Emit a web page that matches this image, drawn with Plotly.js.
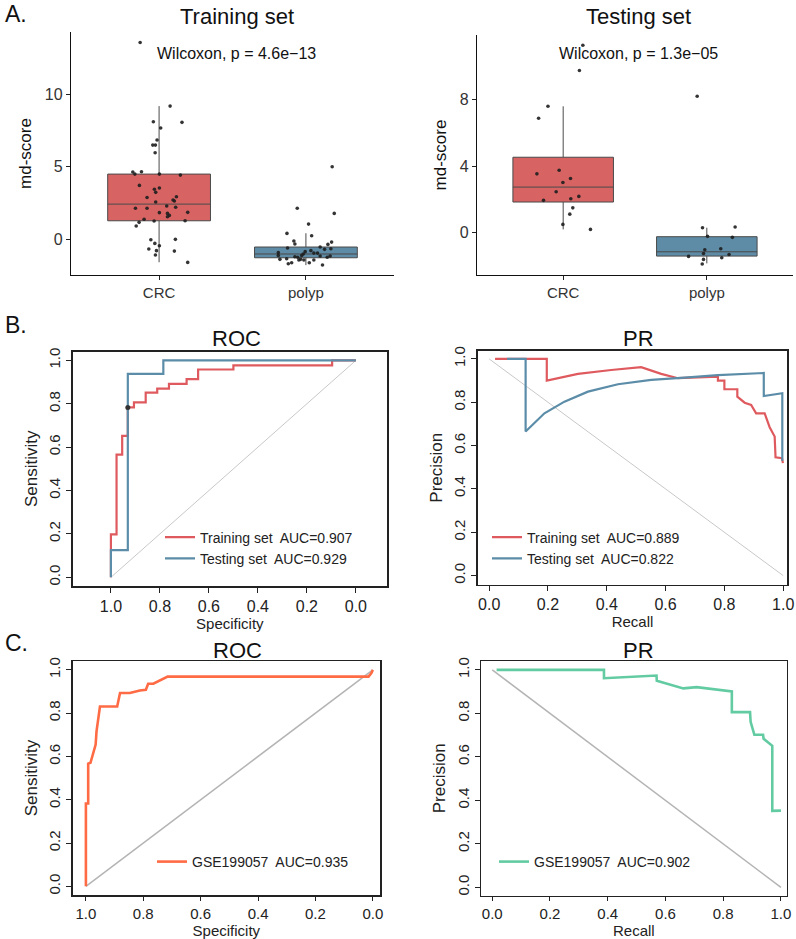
<!DOCTYPE html>
<html>
<head>
<meta charset="utf-8">
<script src="https://cdn.plot.ly/plotly-3.0.1.min.js"></script>
<style>html,body{margin:0;padding:0;background:#fff}#chart{width:796px;height:939px}</style>
</head>
<body>
<div id="chart"></div>
<script>
// ---------- Data ----------
const categories = ['CRC', 'polyp'];

// Panel A, training set: jittered points (value, horizontal jitter in category units)
const trainCRC_y = [13.56, 9.17, 8.09, 8.05, 7.66, 6.83, 6.48, 6.48, 5.95, 4.62, 4.48, 4.64, 4.48, 4.41, 3.70, 3.43, 3.52, 3.22, 2.87, 2.92, 2.69, 2.62, 2.55, 2.28, 2.12, 2.12, 2.19, 1.82, 1.77, 1.63, 1.54, 1.84, 1.36, 1.24, 1.26, 1.15, 0.90, -0.05, -0.02, -0.30, -0.69, -0.80, -0.46, -0.83, -1.10, -1.61];
const trainCRC_jit = [-0.129, 0.075, -0.039, 0.156, 0.011, -0.014, -0.043, -0.025, -0.027, -0.179, -0.165, -0.12, 0.002, 0.145, -0.134, -0.032, 0.002, -0.023, -0.082, 0.118, 0.095, 0.104, -0.023, 0.052, -0.161, -0.082, 0.113, 0.002, 0.057, 0.07, 0.057, 0.195, -0.102, -0.034, 0.177, -0.136, -0.156, -0.056, 0.111, -0.029, -0.07, -0.018, 0.002, 0.104, -0.025, 0.195];
const trainPolyp_y = [4.99, 2.12, 1.77, 1.03, 0.39, 0.23, -0.14, -0.34, -0.21, -0.37, -0.62, -0.55, -0.71, -0.67, -0.80, -0.87, -0.94, -1.03, -0.97, -0.97, -1.13, -1.13, -1.22, -1.26, -1.17, -1.26, -1.36, -1.40, -1.45, -1.45, -1.45, -1.63, -1.63, -1.70, -1.79, -1.40, -1.17];
const trainPolyp_jit = [0.179, -0.059, 0.193, 0.018, -0.129, 0.039, -0.082, -0.075, 0.175, 0.150, -0.125, 0.097, 0.127, 0.170, 0.034, -0.005, -0.188, -0.018, 0.054, 0.079, -0.029, -0.188, -0.075, -0.056, 0.165, 0.145, -0.131, -0.177, -0.048, -0.014, 0.054, 0.023, -0.097, -0.120, 0.113, -0.036, 0.097];
// box statistics [CRC, polyp]
const trainQ1 = [1.26, -1.29], trainMed = [2.41, -1.03], trainQ3 = [4.48, -0.55], trainLo = [-1.60, -1.80], trainHi = [9.17, 0.40];

// Panel A, testing set
const testCRC_y = [11.28, 9.76, 7.6, 6.88, 3.53, 3.75, 3.25, 3.01, 2.45, 2.17, 1.93, 2.03, 1.48, 1.10, 0.48, 0.18];
const testCRC_jit = [0.137, 0.113, -0.106, -0.171, -0.183, -0.028, 0.051, -0.002, -0.049, 0.109, -0.137, 0.053, 0.067, 0.046, -0.002, 0.19];
const testPolyp_y = [8.21, 0.28, 0.32, -0.24, -0.30, -0.99, -1.05, -1.27, -1.45, -1.53, -1.33, -1.63, -1.91];
const testPolyp_jit = [-0.067, -0.030, 0.197, 0.005, 0.178, 0.097, -0.014, -0.023, -0.127, 0.104, 0.155, -0.023, -0.032];
const testQ1 = [1.83, -1.43], testMed = [2.73, -1.17], testQ3 = [4.53, -0.26], testLo = [0.18, -1.87], testHi = [7.6, 0.28];

const pTrain = 'Wilcoxon, p = 4.6e\u221213';
const pTest = 'Wilcoxon, p = 1.3e\u221205';

// Panel B, ROC
const rocTrainSpec = [1, 1, 0.977, 0.977, 0.954, 0.954, 0.931, 0.931, 0.906, 0.906, 0.858, 0.858, 0.811, 0.811, 0.763, 0.763, 0.691, 0.691, 0.644, 0.644, 0.50, 0.50, 0.097, 0.097, 0];
const rocTrainSens = [0, 0.198, 0.198, 0.566, 0.566, 0.652, 0.652, 0.783, 0.783, 0.806, 0.806, 0.851, 0.851, 0.870, 0.870, 0.892, 0.892, 0.914, 0.914, 0.958, 0.958, 0.977, 0.977, 1, 1];
const rocTestSpec = [1, 1, 0.931, 0.931, 0.786, 0.786, 0];
const rocTestSens = [0, 0.125, 0.125, 0.9375, 0.9375, 1, 1];
const rocCutSpec = [0.931], rocCutSens = [0.783];
const aucRocTrain = '0.907', aucRocTest = '0.929';

// Panel B, PR
const prTrainRec = [0.020, 0.196, 0.196, 0.245, 0.302, 0.415, 0.517, 0.585, 0.642, 0.778, 0.778, 0.80, 0.80, 0.844, 0.844, 0.869, 0.891, 0.908, 0.937, 0.954, 0.971, 0.974, 0.996, 0.999];
const prTrainPrec = [1.0, 1.0, 0.90, 0.915, 0.931, 0.949, 0.962, 0.931, 0.911, 0.918, 0.90, 0.90, 0.860, 0.860, 0.826, 0.798, 0.788, 0.749, 0.749, 0.685, 0.642, 0.546, 0.542, 0.519];
const prTestRec = [0.061, 0.124, 0.124, 0.188, 0.256, 0.336, 0.438, 0.551, 0.665, 0.778, 0.934, 0.934, 0.997, 0.997];
const prTestPrec = [1.0, 1.0, 0.665, 0.749, 0.803, 0.849, 0.883, 0.903, 0.914, 0.925, 0.935, 0.829, 0.842, 0.53];
const aucPrTrain = '0.889', aucPrTest = '0.822';

// Panel C, external set GSE199057
const rocExtSpec = [1.0, 1.0, 0.992, 0.992, 0.984, 0.966, 0.963, 0.951, 0.891, 0.881, 0.847, 0.812, 0.791, 0.783, 0.765, 0.715, 0.015, 0.005, 0];
const rocExtSens = [0, 0.383, 0.383, 0.567, 0.571, 0.655, 0.716, 0.831, 0.831, 0.893, 0.893, 0.905, 0.908, 0.936, 0.936, 0.969, 0.969, 0.985, 1.0];
const prExtRec = [0.015, 0.387, 0.387, 0.569, 0.570, 0.662, 0.708, 0.830, 0.830, 0.893, 0.895, 0.908, 0.938, 0.940, 0.970, 0.970, 1.0];
const prExtPrec = [1.0, 1.0, 0.962, 0.974, 0.950, 0.915, 0.921, 0.901, 0.806, 0.806, 0.761, 0.702, 0.702, 0.683, 0.651, 0.352, 0.353];
const extName = 'GSE199057', aucRocExt = '0.935', aucPrExt = '0.902';

const diagA = [0, 1], diagB = [1, 0];
const probTicks = [0, 0.2, 0.4, 0.6, 0.8, 1.0];

// ---------- Layout helpers (pixel -> paper) ----------
const W = 796, H = 939;
const px = v => v / W;
const py = v => 1 - v / H;
const dom = (a, b) => [px(a), px(b)];
const domY = (top, bottom) => [py(bottom), py(top)];

const RED = '#DF5A5E', BLUE = '#5B8CA8';
const BOXRED = '#D76363', BOXBLUE = '#5E8BA5';
const ORANGE = '#FF6B45', GREEN = '#62CBA2';
const FONT = 'Liberation Sans, Arial, sans-serif';
const nbsp = '\u00a0';

function add(arr, off) { return arr.map(v => v + off); }

function boxTrace(xa, ya, i, q1, med, q3, lo, hi, fill) {
  return {type: 'box', xaxis: xa, yaxis: ya, x: [i], q1: [q1[i]], median: [med[i]], q3: [q3[i]],
    lowerfence: [lo[i]], upperfence: [hi[i]], width: 0.7, whiskerwidth: 0, boxpoints: false,
    fillcolor: fill, line: {color: '#4a4a4a', width: 1}, showlegend: false, hoverinfo: 'skip'};
}
function pts(xa, ya, jit, ys, i) {
  return {type: 'scatter', mode: 'markers', xaxis: xa, yaxis: ya, x: add(jit, i), y: ys,
    marker: {size: 3.6, color: '#1e1e1e', opacity: 0.9}, showlegend: false, hoverinfo: 'skip'};
}
function line(xa, ya, x, y, color, width, name, legend) {
  const t = {type: 'scatter', mode: 'lines', xaxis: xa, yaxis: ya, x: x, y: y,
    line: {color: color, width: width}, hoverinfo: 'skip'};
  if (name) { t.name = name; t.legend = legend; t.showlegend = true; } else { t.showlegend = false; }
  return t;
}

const data = [
  // A left
  boxTrace('x', 'y', 0, trainQ1, trainMed, trainQ3, trainLo, trainHi, BOXRED),
  boxTrace('x', 'y', 1, trainQ1, trainMed, trainQ3, trainLo, trainHi, BOXBLUE),
  pts('x', 'y', trainCRC_jit, trainCRC_y, 0),
  pts('x', 'y', trainPolyp_jit, trainPolyp_y, 1),
  // A right
  boxTrace('x2', 'y2', 0, testQ1, testMed, testQ3, testLo, testHi, BOXRED),
  boxTrace('x2', 'y2', 1, testQ1, testMed, testQ3, testLo, testHi, BOXBLUE),
  pts('x2', 'y2', testCRC_jit, testCRC_y, 0),
  pts('x2', 'y2', testPolyp_jit, testPolyp_y, 1),
  // B ROC
  line('x3', 'y3', diagB, diagA, '#c8c8c8', 1),
  line('x3', 'y3', rocTrainSpec, rocTrainSens, RED, 2.2, 'Training set' + nbsp + ' AUC=' + aucRocTrain, 'legend'),
  line('x3', 'y3', rocTestSpec, rocTestSens, BLUE, 2.2, 'Testing set' + nbsp + ' AUC=' + aucRocTest, 'legend'),
  {type: 'scatter', mode: 'markers', xaxis: 'x3', yaxis: 'y3', x: rocCutSpec, y: rocCutSens,
    marker: {size: 5, color: '#333'}, showlegend: false, hoverinfo: 'skip'},
  // B PR
  line('x4', 'y4', diagA, diagB, '#c8c8c8', 1),
  line('x4', 'y4', prTrainRec, prTrainPrec, RED, 2.2, 'Training set' + nbsp + ' AUC=' + aucPrTrain, 'legend2'),
  line('x4', 'y4', prTestRec, prTestPrec, BLUE, 2.2, 'Testing set' + nbsp + ' AUC=' + aucPrTest, 'legend2'),
  // C ROC
  line('x5', 'y5', diagB, diagA, '#b4b4b4', 1.5),
  line('x5', 'y5', rocExtSpec, rocExtSens, ORANGE, 2.6, extName + nbsp + ' AUC=' + aucRocExt, 'legend3'),
  // C PR
  line('x6', 'y6', diagA, diagB, '#b4b4b4', 1.5),
  line('x6', 'y6', prExtRec, prExtPrec, GREEN, 2.6, extName + nbsp + ' AUC=' + aucPrExt, 'legend4')
];

function boxAxisX(d, anchor) {
  return {domain: d, anchor: anchor, range: [-0.6, 1.6], tickvals: [0, 1], ticktext: categories,
    ticks: 'outside', ticklen: 4, tickcolor: '#222', showline: true, linecolor: '#111', linewidth: 1.2,
    showgrid: false, zeroline: false, tickfont: {size: 15, color: '#333'}, fixedrange: true};
}
function boxAxisY(d, anchor, range, tv) {
  return {domain: d, anchor: anchor, range: range, tickvals: tv,
    ticks: 'outside', ticklen: 4, tickcolor: '#222', showline: true, linecolor: '#111', linewidth: 1.2,
    showgrid: false, zeroline: false, tickfont: {size: 16, color: '#333'},
    title: {text: 'md-score', font: {size: 17, color: '#111'}, standoff: 8}};
}
function frameX(d, anchor, range, title, tlen, tsize, stand) {
  return {domain: d, anchor: anchor, range: range, tickvals: probTicks, tickformat: '.1f',
    ticks: 'outside', ticklen: tlen, tickcolor: '#222', showline: true, mirror: true, linecolor: '#222', linewidth: 1.5,
    showgrid: false, zeroline: false, tickfont: {size: tsize, color: '#222'},
    title: {text: title, font: {size: 15, color: '#222'}, standoff: stand}};
}
function frameY(d, anchor, range, title) {
  return {domain: d, anchor: anchor, range: range, tickvals: probTicks, tickformat: '.1f', tickangle: -90,
    ticks: 'outside', ticklen: 5, tickcolor: '#222', showline: true, mirror: true, linecolor: '#222', linewidth: 1.5,
    showgrid: false, zeroline: false, tickfont: {size: 15, color: '#222'},
    title: {text: title, font: {size: 17, color: '#222'}, standoff: 4}};
}
function legendAt(xp, yp) {
  return {x: px(xp), y: py(yp), xanchor: 'left', yanchor: 'middle', bgcolor: 'rgba(0,0,0,0)',
    borderwidth: 0, font: {size: 14, color: '#222'}, tracegroupgap: 0, itemwidth: 30};
}
function ann(text, xp, yp, size, xanchor) {
  return {text: text, x: px(xp), y: py(yp), xref: 'paper', yref: 'paper', showarrow: false,
    xanchor: xanchor || 'center', yanchor: 'middle', font: {size: size, color: '#111'}};
}

const layout = {
  width: W, height: H, margin: {l: 0, r: 0, t: 0, b: 0},
  paper_bgcolor: '#fff', plot_bgcolor: '#fff',
  font: {family: FONT, color: '#222'},
  xaxis: boxAxisX(dom(71, 394), 'y'),
  yaxis: boxAxisY(domY(32, 275), 'x', [-2.48, 14.28], [0, 5, 10]),
  xaxis2: boxAxisX(dom(477, 793), 'y2'),
  yaxis2: boxAxisY(domY(35, 275), 'x2', [-2.57, 11.9], [0, 4, 8]),
  xaxis3: frameX(dom(72.7, 387), 'y3', [1.156, -0.127], 'Specificity', 5, 16, 0),
  yaxis3: frameY(domY(351.7, 586), 'x3', [-0.04, 1.04], 'Sensitivity'),
  xaxis4: frameX(dom(477.7, 787.3), 'y4', [-0.039, 1.014], 'Recall', 5, 16, 0),
  yaxis4: frameY(domY(350.7, 584.7), 'x4', [-0.042, 1.038], 'Precision'),
  xaxis5: frameX(dom(72.7, 380), 'y5', [1.046, -0.025], 'Specificity', 4, 15, 2),
  yaxis5: frameY(domY(661, 895), 'x5', [-0.04, 1.041], 'Sensitivity'),
  xaxis6: frameX(dom(481, 786.7), 'y6', [-0.039, 1.02], 'Recall', 4, 15, 2),
  yaxis6: frameY(domY(661, 895.7), 'x6', [-0.038, 1.041], 'Precision'),
  legend: legendAt(160, 548),
  legend2: legendAt(487, 548),
  legend3: legendAt(152, 862),
  legend4: legendAt(494, 862),
  annotations: [
    ann('A.', 3, 14, 23, 'left'),
    ann('B.', 3, 325, 23, 'left'),
    ann('C.', 3, 643, 23, 'left'),
    ann('Training set', 237, 16, 22),
    ann('Testing set', 638, 16, 22),
    ann(pTrain, 236, 54, 16),
    ann(pTest, 638, 54, 16),
    ann('ROC', 236, 338, 22),
    ann('PR', 638, 338, 22),
    ann('ROC', 237, 650, 22),
    ann('PR', 638, 650, 22)
  ]
};

Plotly.newPlot('chart', data, layout, {staticPlot: true, displayModeBar: false});
</script>
</body>
</html>
